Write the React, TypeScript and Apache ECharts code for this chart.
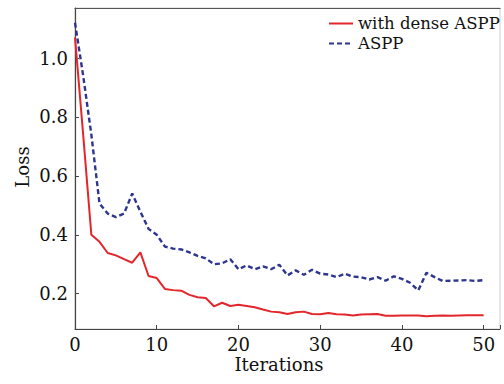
import React, { useEffect, useRef } from "react";
import * as echarts from "echarts";

const iterations = Array.from({ length: 51 }, (_, i) => i);

const denseASPP = [
  1.07, 0.74, 0.40, 0.376, 0.338, 0.33, 0.317, 0.305, 0.34, 0.26,
  0.253, 0.216, 0.212, 0.21, 0.196, 0.188, 0.185, 0.157, 0.169, 0.158,
  0.162, 0.158, 0.154, 0.146, 0.139, 0.137, 0.131, 0.137, 0.139, 0.131,
  0.13, 0.134, 0.13, 0.129, 0.126, 0.129, 0.13, 0.131, 0.125, 0.125,
  0.126, 0.126, 0.126, 0.123, 0.125, 0.126, 0.125, 0.126, 0.127, 0.127,
  0.127,
];

const aspp = [
  1.12, 0.94, 0.74, 0.506, 0.472, 0.46, 0.472, 0.54, 0.478, 0.42,
  0.40, 0.36, 0.353, 0.35, 0.34, 0.328, 0.32, 0.30, 0.303, 0.317,
  0.283, 0.296, 0.283, 0.293, 0.283, 0.298, 0.262, 0.279, 0.264, 0.281,
  0.268, 0.265, 0.256, 0.268, 0.258, 0.256, 0.248, 0.256, 0.244, 0.259,
  0.25, 0.237, 0.211, 0.271, 0.256, 0.243, 0.244, 0.245, 0.246, 0.243,
  0.246,
];

const yTicks = [0.2, 0.4, 0.6, 0.8, 1.0];
const seriesNames = ["with dense ASPP", "ASPP"];

const FONT = "DejaVu Serif";

export default function App() {
  const ref = useRef<HTMLDivElement>(null);
  useEffect(() => {
    if (!ref.current) return;
    const chart = echarts.init(ref.current, null, { renderer: "svg" });
    chart.setOption({
      animation: false,
      backgroundColor: "#fff",
      grid: {
        left: 75,
        right: 4,
        top: 8,
        bottom: 55,
        show: true,
        borderColor: "#cfcfcf",
        borderWidth: 1,
      },
      legend: {
        orient: "vertical",
        left: 328,
        top: 15,
        padding: 0,
        itemWidth: 24,
        itemHeight: 14,
        itemGap: 3,
        data: seriesNames,
        itemStyle: { opacity: 0 },
        textStyle: { fontFamily: FONT, fontSize: 16.5, color: "#111", lineHeight: 16 },
      },
      xAxis: [
        {
          type: "value",
          min: 0,
          max: 52,
          interval: 10,
          axisLine: { show: true, lineStyle: { color: "#444", width: 1.2 } },
          axisTick: { show: true, inside: true, length: 4, lineStyle: { color: "#444" } },
          axisLabel: {
            fontFamily: FONT,
            fontSize: 18,
            color: "#111",
            margin: 6,
            formatter: (v: number) => (v % 10 === 0 && v <= 50 ? String(v) : ""),
          },
          splitLine: { show: false },
        },
        {
          type: "value",
          position: "top",
          min: 0,
          max: 52,
          axisLine: { show: true, lineStyle: { color: "#555", width: 1.2 } },
          axisTick: { show: false },
          axisLabel: { show: false },
          splitLine: { show: false },
        },
      ],
      yAxis: {
        type: "value",
        min: 0.08,
        max: 1.17,
        axisLine: { show: true, lineStyle: { color: "#444", width: 1.2 } },
        axisTick: {
          show: true,
          inside: true,
          length: 4,
          customValues: yTicks,
          lineStyle: { color: "#444" },
        },
        axisLabel: {
          fontFamily: FONT,
          fontSize: 18,
          color: "#111",
          margin: 7,
          customValues: yTicks,
          formatter: (v: number) => v.toFixed(1),
        },
        splitLine: { show: false },
      },
      graphic: [
        {
          type: "text",
          x: 279,
          y: 364,
          style: {
            text: "Iterations",
            fontFamily: FONT,
            fontSize: 18,
            fill: "#111",
            align: "center",
            verticalAlign: "middle",
          },
        },
        {
          type: "text",
          x: 22,
          y: 167,
          rotation: Math.PI / 2,
          style: {
            text: "Loss",
            fontFamily: FONT,
            fontSize: 18,
            fill: "#111",
            align: "center",
            verticalAlign: "middle",
          },
        },
      ],
      series: [
        {
          name: seriesNames[0],
          type: "line",
          symbol: "none",
          data: iterations.map((x, i) => [x, denseASPP[i]]),
          lineStyle: { color: "#e3262b", width: 2 },
          itemStyle: { color: "#e3262b" },
        },
        {
          name: seriesNames[1],
          type: "line",
          symbol: "none",
          data: iterations.map((x, i) => [x, aspp[i]]),
          lineStyle: { color: "#2e3590", width: 2.4, type: [5, 3] },
          itemStyle: { color: "#2e3590" },
        },
      ],
    });
    return () => chart.dispose();
  }, []);
  return <div ref={ref} style={{ width: 504, height: 384, position: "absolute", left: 0, top: 0 }} />;
}
